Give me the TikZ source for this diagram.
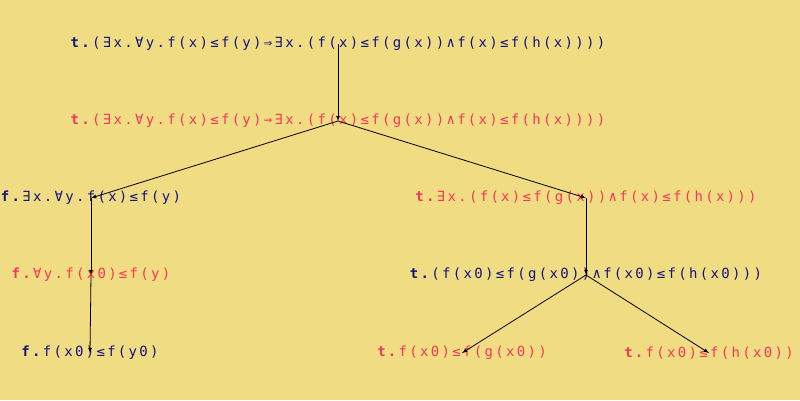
\documentclass[tikz,border=0pt]{standalone}
\usepackage{fontspec}
\setmonofont{DejaVu Sans Mono}[LetterSpace=16.5]
\usetikzlibrary{arrows}
\definecolor{paper}{RGB}{240,220,130}
\definecolor{navy}{RGB}{20,20,125}
\definecolor{rose}{RGB}{250,55,90}
\tikzset{
    formula/.style={inner sep=0pt, font=\ttfamily\fontsize{14}{16}\selectfont},
    blueformula/.style={formula, text=navy},
    redformula/.style={formula, text=rose},
}

\begin{document}
\begin{tikzpicture}[x=1pt, y=-1pt]
    % background.
    \fill[paper] (0, 0) rectangle (800, 400);
    \useasboundingbox (0, 0) rectangle (800, 400);
    % root and its copy.
    \node[blueformula] (root) at (338, 44) {\textbf{t.}(∃x.∀y.f(x)≤f(y)⇒∃x.(f(x)≤f(g(x))∧f(x)≤f(h(x))))};
    \node[redformula] (impl) at (338, 121) {\textbf{t.}(∃x.∀y.f(x)≤f(y)→∃x.(f(x)≤f(g(x))∧f(x)≤f(h(x))))};
    % left branch.
    \node[blueformula] (left ex) at (91, 198) {\textbf{f.}∃x.∀y.f(x)≤f(y)};
    \node[redformula] (left all) at (91, 275) {\textbf{f.}∀y.f(x0)≤f(y)};
    \node[blueformula] (left leaf) at (90, 353) {\textbf{f.}f(x0)≤f(y0)};
    % right branch.
    \node[redformula] (right ex) at (586, 198) {\textbf{t.}∃x.(f(x)≤f(g(x))∧f(x)≤f(h(x)))};
    \node[blueformula] (right and) at (586, 275) {\textbf{t.}(f(x0)≤f(g(x0))∧f(x0)≤f(h(x0)))};
    \node[redformula] (right g) at (462, 353) {\textbf{t.}f(x0)≤f(g(x0))};
    \node[redformula] (right h) at (709, 353) {\textbf{t.}f(x0)≤f(h(x0))};
    % tree edges.
    \draw[->, >=latex, line width=0.8pt] (root.center) -- (impl.center);
    \draw[->, >=latex, line width=0.8pt] (impl.center) -- (left ex.center);
    \draw[->, >=latex, line width=0.8pt] (impl.center) -- (right ex.center);
    \draw[->, >=latex, line width=0.8pt] (left ex.center) -- (left all.center);
    \draw[->, >=latex, line width=0.8pt] (left all.center) -- (left leaf.center);
    \draw[->, >=latex, line width=0.8pt] (right ex.center) -- (right and.center);
    \draw[->, >=latex, line width=0.8pt] (right and.center) -- (right g.center);
    \draw[->, >=latex, line width=0.8pt] (right and.center) -- (right h.center);
\end{tikzpicture}
\end{document}
